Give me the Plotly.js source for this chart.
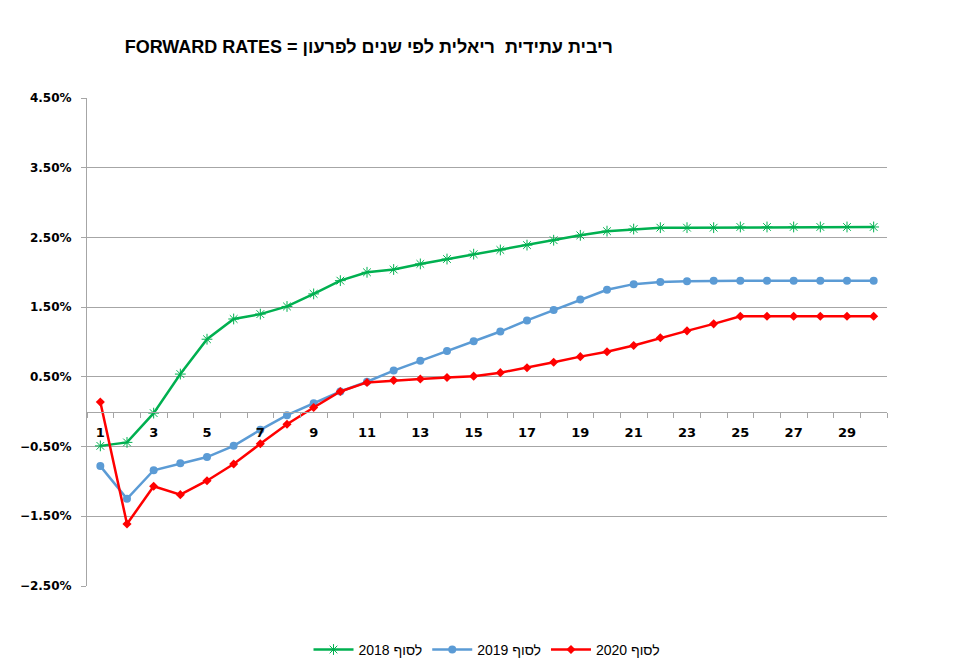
<!DOCTYPE html>
<html><head><meta charset="utf-8">
<script src="https://cdn.plot.ly/plotly-3.0.1.min.js"></script>
</head><body style="margin:0;background:#fff">
<div id="chart" style="width:953px;height:672px"></div>
<script>
const years = [1,2,3,4,5,6,7,8,9,10,11,12,13,14,15,16,17,18,19,20,21,22,23,24,25,26,27,28,29,30];
const rates2018 = [-0.49,-0.44,-0.02,0.54,1.04,1.33,1.40,1.51,1.69,1.88,2.00,2.04,2.12,2.19,2.26,2.32,2.39,2.46,2.53,2.59,2.62,2.64,2.64,2.64,2.65,2.65,2.65,2.65,2.65,2.65];
const rates2019 = [-0.78,-1.25,-0.84,-0.74,-0.65,-0.49,-0.26,-0.05,0.12,0.29,0.43,0.59,0.73,0.87,1.01,1.15,1.31,1.46,1.61,1.75,1.83,1.86,1.87,1.88,1.88,1.88,1.88,1.88,1.88,1.88];
const rates2020 = [0.14,-1.61,-1.07,-1.19,-0.99,-0.75,-0.46,-0.18,0.06,0.29,0.42,0.45,0.47,0.49,0.51,0.56,0.63,0.71,0.79,0.86,0.95,1.06,1.16,1.26,1.37,1.37,1.37,1.37,1.37,1.37];
const seriesNames = ['לסוף 2018','לסוף 2019','לסוף 2020'];
const xTickVals = [1,3,5,7,9,11,13,15,17,19,21,23,25,27,29];
const xTickText = ['1','3','5','7','9','11','13','15','17','19','21','23','25','27','29'];
const xMinorTicks = [0.5,1.5,2.5,3.5,4.5,5.5,6.5,7.5,8.5,9.5,10.5,11.5,12.5,13.5,14.5,15.5,16.5,17.5,18.5,19.5,20.5,21.5,22.5,23.5,24.5,25.5,26.5,27.5,28.5,29.5,30.5];
const titleText = 'FORWARD RATES = ריבית עתידית  ריאלית לפי שנים לפרעון';

const grey = '#A6A6A6';
const traces = [
  {x: years, y: rates2018, name: seriesNames[0], type: 'scatter', mode: 'lines+markers',
   line: {color: '#00B050', width: 2.5},
   marker: {symbol: 'asterisk-open', size: 9, color: '#00B050', line: {color: '#00B050', width: 1}}},
  {x: years, y: rates2019, name: seriesNames[1], type: 'scatter', mode: 'lines+markers',
   line: {color: '#5B9BD5', width: 2.5},
   marker: {symbol: 'circle', size: 8, color: '#5B9BD5'}},
  {x: years, y: rates2020, name: seriesNames[2], type: 'scatter', mode: 'lines+markers',
   line: {color: '#FF0000', width: 2.5},
   marker: {symbol: 'diamond', size: 7, color: '#FF0000'}}
];

const layout = {
  width: 953, height: 672,
  margin: {l: 87, r: 66, t: 98, b: 86, autoexpand: false},
  paper_bgcolor: '#fff', plot_bgcolor: '#fff',
  font: {family: 'Liberation Sans, Arial, sans-serif', color: '#000'},
  title: {text: titleText, x: 0.387, xanchor: 'center', y: 0.93, yanchor: 'middle', xref: 'container', yref: 'container',
          font: {size: 18, weight: 'bold', color: '#000', family: 'Liberation Sans, Arial, sans-serif'}},
  showlegend: true,
  legend: {orientation: 'h', x: 0.5, xanchor: 'center', y: -0.131, yanchor: 'middle',
           font: {size: 14, color: '#000'}, itemwidth: 40, traceorder: 'normal'},
  hovermode: false,
  xaxis: {
    range: [0.5, 30.5], anchor: 'free', position: 2.5/7,
    tickmode: 'array', tickvals: xTickVals, ticktext: xTickText,
    ticks: 'outside', ticklen: 9, tickcolor: 'rgba(0,0,0,0)',
    minor: {tickmode: 'array', tickvals: xMinorTicks, ticks: 'outside', ticklen: 5, tickcolor: grey, tickwidth: 1},
    showline: true, linecolor: grey, linewidth: 1,
    showgrid: false, zeroline: false,
    tickfont: {size: 13, weight: 'bold', family: 'DejaVu Sans, sans-serif', color: '#000'}
  },
  yaxis: {
    range: [-2.5, 4.5], tickmode: 'linear', tick0: 0.5, dtick: 1,
    tickformat: '.2f', ticksuffix: '%',
    ticks: 'outside', ticklen: 5, tickcolor: grey, ticklabelstandoff: 7,
    showline: true, linecolor: grey, linewidth: 1,
    showgrid: true, gridcolor: grey, gridwidth: 1, zeroline: false,
    tickfont: {size: 12, weight: 'bold', family: 'DejaVu Sans, sans-serif', color: '#000'}
  }
};

Plotly.newPlot('chart', traces, layout, {displayModeBar: false, staticPlot: true});
</script>
</body></html>
